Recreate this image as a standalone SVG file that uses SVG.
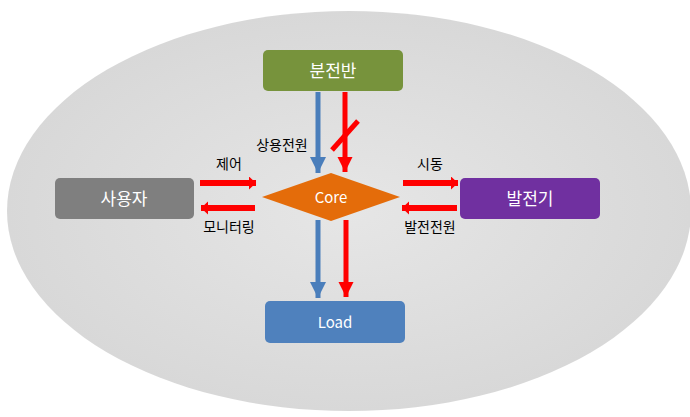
<svg xmlns="http://www.w3.org/2000/svg" width="690" height="417" viewBox="0 0 690 417">
<defs>
<radialGradient id="bg" cx="50%" cy="50%" r="50%">
<stop offset="0" stop-color="#E6E6E6"/>
<stop offset="1" stop-color="#D8D8D8"/>
</radialGradient>
<marker id="hb" markerUnits="userSpaceOnUse" markerWidth="16" markerHeight="18" refX="16" refY="8" orient="auto">
<path d="M0,0 L16,8 L0,16 Z" fill="#4A7EBB"/>
</marker>
<marker id="hr" markerUnits="userSpaceOnUse" markerWidth="16" markerHeight="16" refX="15" refY="7.5" orient="auto">
<path d="M0,0 L15,7.5 L0,15 Z" fill="#FF0000"/>
</marker>
<marker id="hrs" markerUnits="userSpaceOnUse" markerWidth="8" markerHeight="14" refX="7" refY="6.5" orient="auto">
<path d="M0,0 L7,6.5 L0,13 Z" fill="#FF0000"/>
</marker>
</defs>
<style>
.box{stroke:none}
.lbl{font-family:"Noto Sans CJK KR","Noto Sans",sans-serif;font-size:17px;fill:#FFFFFF;text-anchor:middle}
.sm{font-family:"Noto Sans CJK KR","Noto Sans",sans-serif;font-size:14px;fill:#000000;text-anchor:middle}
.bl{stroke:#4A7EBB;stroke-width:5;fill:none}
.rd{stroke:#FF0000;stroke-width:5;fill:none}
.rh{stroke:#FF0000;stroke-width:6;fill:none}
</style>
<rect width="690" height="417" fill="#FFFFFF"/>
<ellipse cx="349" cy="211" rx="342" ry="200" fill="url(#bg)"/>
<g id="connectors">
<path class="bl" d="M318,92 V173" marker-end="url(#hb)"/>
<path class="rd" d="M345,92 V172" marker-end="url(#hr)"/>
<path class="rd" d="M332,150 L358,121" stroke-width="4"/>
<path class="bl" d="M318,220 V298" marker-end="url(#hb)"/>
<path class="rd" d="M346,220 V297" marker-end="url(#hr)"/>
<path class="rh" d="M200,183 H256" marker-end="url(#hrs)"/>
<path class="rh" d="M255,208 H201" marker-end="url(#hrs)"/>
<path class="rh" d="M403,183 H458" marker-end="url(#hrs)"/>
<path class="rh" d="M457,208 H402" marker-end="url(#hrs)"/>
<text class="sm" x="282" y="150">상용전원</text>
<text class="sm" x="229" y="169">제어</text>
<text class="sm" x="229" y="232">모니터링</text>
<text class="sm" x="430" y="169">시동</text>
<text class="sm" x="430" y="232">발전전원</text>
</g>
<g id="node-bunjeonban">
<rect class="box" x="263" y="50" width="140" height="41" rx="5" fill="#77933C"/>
<text class="lbl" x="333" y="77">분전반</text>
</g>
<g id="node-user">
<rect class="box" x="55" y="178" width="139" height="41" rx="5" fill="#7F7F7F"/>
<text class="lbl" x="124" y="205">사용자</text>
</g>
<g id="node-generator">
<rect class="box" x="460" y="178" width="140" height="41" rx="5" fill="#7030A0"/>
<text class="lbl" x="530" y="205">발전기</text>
</g>
<g id="node-load">
<rect class="box" x="265" y="301" width="140" height="42" rx="5" fill="#4F81BD"/>
<text class="lbl" x="335" y="328" style="font-size:15px">Load</text>
</g>
<g id="node-core">
<path d="M262,197 L331,173 L400,197 L331,221 Z" fill="#E46C0A"/>
<text class="lbl" x="331" y="203" style="font-size:15px">Core</text>
</g>
</svg>
